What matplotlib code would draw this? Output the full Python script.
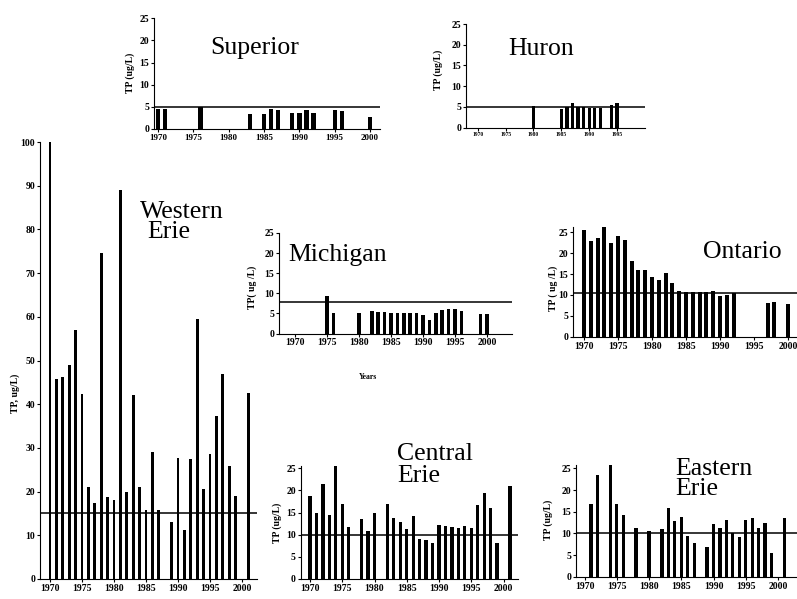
import matplotlib.pyplot as plt

W, H = 797, 599
plt.rcParams['font.family'] = ['Liberation Serif', 'DejaVu Serif']

# total phosphorus (ug/L) by lake basin
sup_years = [1970, 1971, 1976, 1983, 1985, 1986, 1987, 1989, 1990, 1991, 1992, 1995, 1996, 2000]
sup_tp = [4.6, 4.6, 5.0, 3.3, 3.3, 4.6, 4.2, 3.5, 3.5, 4.2, 3.5, 4.4, 4.0, 2.7]

hur_years = [1980, 1985, 1986, 1987, 1988, 1989, 1990, 1991, 1992, 1994, 1995]
hur_tp = [5.3, 4.4, 4.9, 5.9, 5.0, 5.0, 4.8, 4.8, 4.6, 5.5, 6.0]

mic_years = [1975, 1976, 1980] + list(range(1982, 1997)) + [1999, 2000]
mic_tp = [9.3, 5.2, 5.0, 5.6, 5.4, 5.4, 5.2, 5.2, 5.2, 5.2, 5.2,
          4.6, 3.3, 5.0, 5.8, 6.2, 6.1, 5.6, 4.8, 4.8]

ont_years = list(range(1970, 1993)) + [1997, 1998, 2000]
ont_tp = [25.5, 23.0, 23.7, 26.3, 22.5, 24.0, 23.2, 18.1, 16.0, 16.0, 14.4, 13.6,
          15.2, 12.8, 11.0, 10.6, 10.8, 10.8, 10.8, 10.9, 9.8, 10.0, 10.4,
          8.1, 8.2, 7.8]

we_years = list(range(1970, 1988)) + list(range(1989, 2000)) + [2001]
we_tp = [100, 45.8, 46.3, 49, 57, 42.3, 21, 17.5, 74.6, 18.7, 18, 89, 19.8, 42,
         21, 15.8, 29, 15.8,
         13, 27.8, 11.3, 27.4, 59.5, 20.7, 28.7, 37.4, 47, 25.9, 19,
         42.5]

ce_years = list(range(1970, 1977)) + [1978, 1979, 1980] + list(range(1982, 2000)) + [2001]
ce_tp = [18.7, 14.8, 21.5, 14.4, 25.6, 17.0, 11.8, 13.5, 10.9, 14.8,
         17.0, 13.8, 12.9, 11.3, 14.3, 9.0, 8.8, 8.1, 12.2, 12.0, 11.8, 11.4,
         11.9, 11.6, 16.6, 19.4, 16.1, 8.1, 21.1]

ee_years = [1971, 1972, 1974, 1975, 1976, 1978, 1980, 1982, 1983, 1984, 1985,
            1986, 1987] + list(range(1989, 2000)) + [2001]
ee_tp = [16.8, 23.6, 26.3, 16.9, 14.2, 11.2, 10.6, 11.0, 15.8, 12.9, 13.8,
         9.4, 7.7, 6.9, 12.1, 11.2, 13.1, 10.0, 9.1, 13.1, 13.5, 11.2, 12.5,
         5.4, 13.5]

fig = plt.figure(figsize=(W / 100, H / 100), dpi=100)


def panel(x0, x1, p1970, step, yzero, unit, ytop, years, tp, target, yticks,
          width=0.55, xfs=7, yfs=7):
    # place axes by pixel positions measured on the scan
    top_px = yzero - ytop * unit
    ax = fig.add_axes([x0 / W, 1 - yzero / H, (x1 - x0) / W, (yzero - top_px) / H])
    ax.set_xlim(1970 + (x0 - p1970) / step, 1970 + (x1 - p1970) / step)
    ax.set_ylim(0, ytop)
    ax.bar(years, tp, width=width, color='black')
    ax.axhline(target, color='black', lw=1.1)
    for s in ['top', 'right']:
        ax.spines[s].set_visible(False)
    for s in ['left', 'bottom']:
        ax.spines[s].set_linewidth(0.8)
    ax.set_xticks(range(1970, 2001, 5))
    ax.set_yticks(yticks)
    ax.tick_params(axis='x', labelsize=xfs, length=2, pad=1.5)
    ax.tick_params(axis='y', labelsize=yfs, length=2, pad=1.5)
    for lab in ax.get_xticklabels() + ax.get_yticklabels():
        lab.set_fontweight('bold')
    ax.patch.set_alpha(0)
    return ax


panel(154, 380, 158, 7.07, 129, 4.43, 25, sup_years, sup_tp, 5, range(0, 26, 5),
      width=0.6, xfs=6.5)
hur = panel(466, 645, 479, 6.2, 127.5, 4.14, 25, hur_years, hur_tp, 5, range(0, 26, 5),
            width=0.6, xfs=4)
hur.set_xticks(range(1970, 1996, 5))
panel(40, 257, 50, 6.4, 579, 4.37, 100, we_years, we_tp, 15, range(0, 101, 10), width=0.45)
panel(279, 512, 295, 6.4, 333.5, 4.02, 25, mic_years, mic_tp, 7.8, range(0, 26, 5), width=0.55)
panel(573, 797, 584, 6.8, 336.7, 4.18, 26.2, ont_years, ont_tp, 10.5, range(0, 26, 5), width=0.6)
panel(300.7, 518, 310, 6.45, 579, 4.43, 25.4, ce_years, ce_tp, 10, range(0, 26, 5), width=0.5)
panel(576, 797, 584.5, 6.45, 576.7, 4.33, 25.8, ee_years, ee_tp, 10, range(0, 26, 5), width=0.5)


def ftext(x, y, s, **kw):
    fig.text(x / W, 1 - y / H, s, **kw)


title_kw = dict(fontsize=18.5, va='baseline', ha='left')
ftext(210, 54, 'Superior', **title_kw)
ftext(508, 55, 'Huron', **title_kw)
ftext(140, 218, 'Western', **title_kw)
ftext(147, 238, 'Erie', **title_kw)
ftext(288, 261, 'Michigan', **title_kw)
ftext(703, 258, 'Ontario', **title_kw)
ftext(397, 460, 'Central', **title_kw)
ftext(397, 482, 'Erie', **title_kw)
ftext(675, 475, 'Eastern', **title_kw)
ftext(675, 495, 'Erie', **title_kw)

ylab_kw = dict(fontsize=7, fontweight='bold', rotation=90, ha='center', va='center')
ftext(130, 73, 'TP (ug/L)', **ylab_kw)
ftext(438, 70, 'TP (ug/L)', **ylab_kw)
ftext(15, 393, 'TP, ug/L)', **ylab_kw)
ftext(252, 287, 'TP( ug /L)', **ylab_kw)
ftext(553, 288, 'TP ( ug /L)', **ylab_kw)
ftext(277, 523, 'TP (ug/L)', **ylab_kw)
ftext(548, 520, 'TP (ug/L)', **ylab_kw)
ftext(368, 377, 'Years', fontsize=5.5, fontweight='bold', ha='center', va='center')

fig.savefig('out.png', dpi=100)
